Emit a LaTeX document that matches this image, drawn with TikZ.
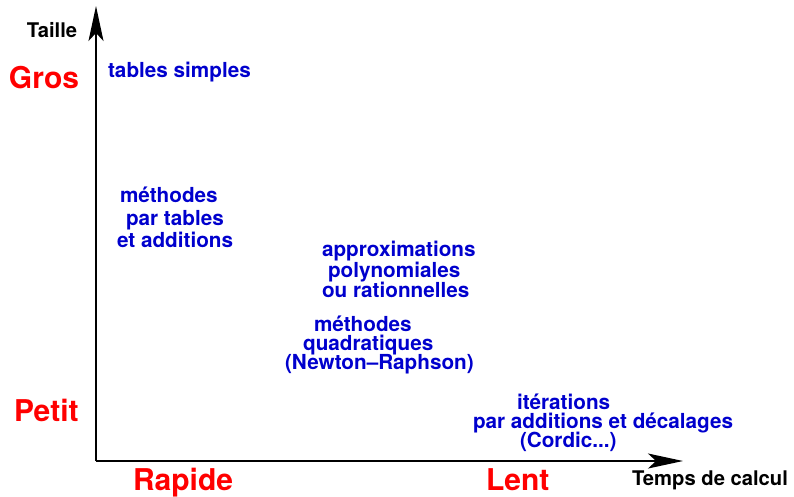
\documentclass[tikz,border=0pt]{standalone}
\usepackage{fontspec}
\setmainfont{TeX Gyre Heros}
\usetikzlibrary{arrows.meta}
\definecolor{txtblue}{RGB}{0,0,205}
\definecolor{txtred}{RGB}{255,0,0}
\tikzset{
  every node/.style={inner sep=0pt, outer sep=0pt, anchor=base west},
  meth/.style={text=txtblue, font=\fontsize{20.7}{24}\selectfont\bfseries},
  big/.style={text=txtred, font=\fontsize{30}{34}\selectfont\bfseries},
  axlabel/.style={text=black, font=\fontsize{20.2}{23}\selectfont\bfseries},
  axis/.style={line width=1.6pt, -{Stealth[length=35pt, width=15pt, inset=8pt]}}
}
\begin{document}
\begin{tikzpicture}[x=1pt, y=-1pt]
\useasboundingbox (0,0) rectangle (794,496);
\coordinate (O) at (96,461);
\coordinate (ytip) at (96,6);
\coordinate (xtip) at (683,461);
\draw[axis] (O) -- (ytip);
\draw[axis] (O) -- (xtip);

\node[axlabel] (taille) at (27,37) {Taille};
\node[axlabel] (temps) at (632,485) {Temps de calcul};

\node[big] (gros) at (9,88) {Gros};
\node[big] (petit) at (14,421) {Petit};
\node[big] (rapide) at (133,490) {Rapide};
\node[big] (lent) at (486,490) {Lent};

\node[meth] (ts) at (108,77) {tables simples};

\node[meth] (mt1) at (120,202) {méthodes};
\node[meth] (mt2) at (126,225) {par tables};
\node[meth] (mt3) at (117,247) {et additions};

\node[meth] (ap1) at (322,256) {approximations};
\node[meth] (ap2) at (328,277) {polynomiales};
\node[meth] (ap3) at (322,297) {ou rationnelles};

\node[meth] (mq1) at (314,331) {méthodes};
\node[meth] (mq2) at (303,350) {quadratiques};
\node[meth] (mq3) at (285,369) {(Newton\textendash Raphson)};

\node[meth] (it1) at (517,409) {itérations};
\node[meth] (it2) at (473,428) {par additions et décalages};
\node[meth] (it3) at (520,447) {(Cordic...)};
\end{tikzpicture}
\end{document}
